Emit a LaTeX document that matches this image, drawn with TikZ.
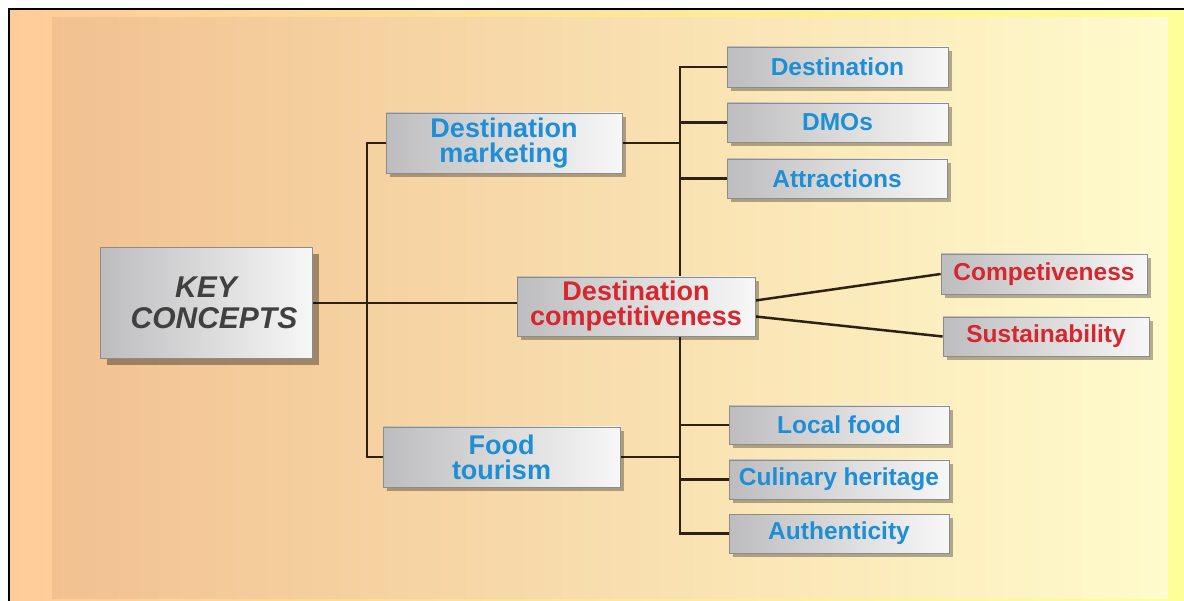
\documentclass[tikz,border=0pt]{standalone}
\usepackage{fontspec}
\setmainfont{Liberation Sans}
\usetikzlibrary{shadows}
\definecolor{bgL}{HTML}{FFCC99}
\definecolor{bgR}{HTML}{FFFF99}
\definecolor{pnL}{HTML}{F2C190}
\definecolor{pnM}{HTML}{FADDA8}
\definecolor{pnR}{HTML}{FFFBCC}
\definecolor{txtblue}{HTML}{1E8ED6}
\definecolor{txtred}{HTML}{D6262E}
\definecolor{keygray}{HTML}{404040}
\definecolor{linec}{HTML}{2E2114}
\definecolor{boxL}{HTML}{BDBDBF}
\definecolor{boxR}{HTML}{F7F7F7}
\definecolor{boxedge}{HTML}{8C8C8C}
\pgfdeclarelayer{bgpanel}
\pgfdeclarelayer{wires}
\pgfsetlayers{bgpanel,wires,main}
\begin{document}
\begin{tikzpicture}[x=1pt,y=-1pt,
  basebox/.style={draw=boxedge, line width=0.8pt, left color=boxL, right color=boxR, align=center, inner sep=0pt},
  box/.style={basebox, drop shadow={shadow xshift=4pt, shadow yshift=-4pt, fill=black, opacity=0.3}},
  midbox/.style={box, minimum width=237pt, minimum height=60pt, font=\fontsize{27}{25}\bfseries\selectfont},
  leafbox/.style={box, minimum width=221pt, minimum height=39pt, font=\fontsize{24.5}{26}\bfseries\selectfont},
  keybox/.style={basebox, minimum width=212pt, minimum height=111pt, text=keygray, font=\fontsize{30}{31}\bfseries\itshape\selectfont, drop shadow={shadow xshift=7pt, shadow yshift=-7pt, fill=black, opacity=0.35}},
  wire/.style={draw=linec, line width=2.5pt}]
\useasboundingbox (0,0) rectangle (1184,601);
\begin{pgfonlayer}{bgpanel}
\fill[white] (0,0) rectangle (1184,601);
\fill[left color=bgL, right color=bgR] (9,9) rectangle (1184,601);
\fill[left color=pnL, middle color=pnM, right color=pnR] (52,18) rectangle (1168,598);
\draw[black, line width=2pt] (9,601) -- (9,9) -- (1184,9);
\end{pgfonlayer}

% nodes
\node[keybox] (key) at (206,303) {KEY\\\hspace*{16pt}CONCEPTS};
\node[midbox, text=txtblue, minimum width=236pt] (dm) at (504,143) {Destination\\marketing};
\node[midbox, text=txtred, minimum width=238pt, minimum height=59pt] (dc) at (636,306.5) {Destination\\competitiveness};
\node[midbox, text=txtblue] (ft) at (501.5,457) {Food\\tourism};
\node[leafbox, text=txtblue, minimum height=40pt] (d1) at (837.5,67) {Destination};
\node[leafbox, text=txtblue] (d2) at (837.5,122.5) {DMOs};
\node[leafbox, text=txtblue, minimum width=220pt] (d3) at (837,178.5) {Attractions};
\node[leafbox, text=txtred, minimum width=206pt, minimum height=40pt] (c1) at (1044,274) {Competiveness};
\node[leafbox, text=txtred, minimum width=206pt] (c2) at (1046,336.5) {Sustainability};
\node[leafbox, text=txtblue, minimum width=220pt, minimum height=38pt] (f1) at (839,425) {Local food};
\node[leafbox, text=txtblue, minimum width=220pt] (f2) at (839,479.5) {Culinary heritage};
\node[leafbox, text=txtblue, minimum width=220pt] (f3) at (839,533.5) {Authenticity};

% connectors
\begin{pgfonlayer}{wires}
\coordinate (lt) at (367,0);
\coordinate (rt) at (680,0);
\draw[wire] (key.east) -- (key.east -| dc.west);
\draw[wire] (dm.west) -| (lt |- ft.west) -- (ft.west);
\draw[wire] (d1.west) -| (rt |- f3.west) -- (f3.west);
\draw[wire] (dm.east) -- (dm.east -| rt);
\draw[wire] (ft.east) -- (ft.east -| rt);
\draw[wire] (d2.west) -- (d2.west -| rt);
\draw[wire] (d3.west) -- (d3.west -| rt);
\draw[wire] (f1.west) -- (f1.west -| rt);
\draw[wire] (f2.west) -- (f2.west -| rt);
\draw[wire] ([yshift=6pt]dc.east) -- (c1.west);
\draw[wire] ([yshift=-10pt]dc.east) -- (c2.west);
\end{pgfonlayer}
\end{tikzpicture}
\end{document}
